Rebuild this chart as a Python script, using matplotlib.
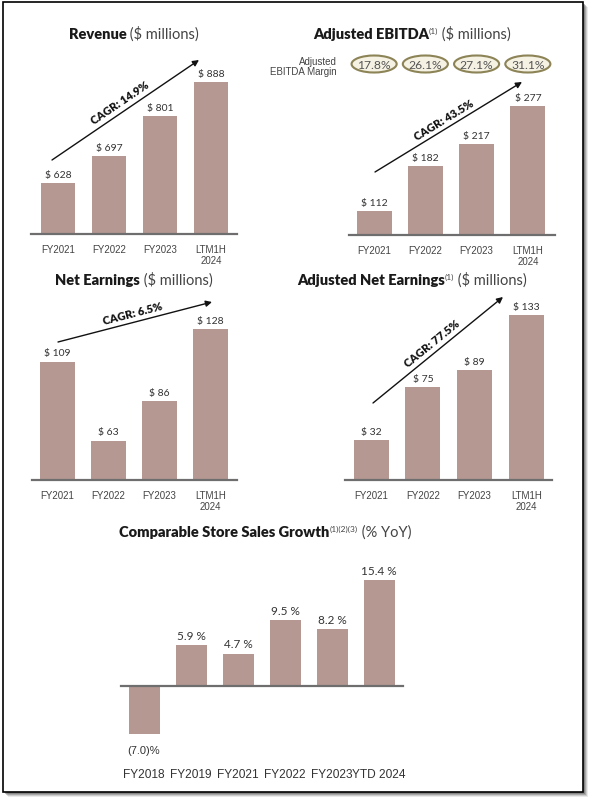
import numpy as np
import matplotlib as mpl
import matplotlib.pyplot as plt
from matplotlib.patches import Rectangle, Ellipse
from matplotlib.transforms import blended_transform_factory

mpl.rcParams["font.family"] = "Lato"

W, H = 592, 803

# data
years4 = ["FY2021", "FY2022", "FY2023", "LTM1H\n2024"]
revenue = [628, 697, 801, 888]
ebitda = [112, 182, 217, 277]
ebitda_margin = ["17.8%", "26.1%", "27.1%", "31.1%"]
net_earn = [109, 63, 86, 128]
adj_net_earn = [32, 75, 89, 133]
cagr = ["CAGR: 14.9%", "CAGR: 43.5%", "CAGR: 6.5%", "CAGR: 77.5%"]
comp_years = ["FY2018", "FY2019", "FY2021", "FY2022", "FY2023", "YTD 2024"]
comp_growth = [-7.0, 5.9, 4.7, 9.5, 8.2, 15.4]

BAR = "#b59892"
AXIS = "#6e6e6e"
TXT = "#333333"

fig = plt.figure(figsize=(W / 100, H / 100), dpi=100)


def fx(x):
    return x / W


def fy(y):
    return 1 - y / H


# frame with a soft shadow
for off, a in [(5, 0.12), (4, 0.2), (3, 0.3), (2, 0.4)]:
    fig.add_artist(Rectangle((fx(3 + off), fy(793 + off)), 580 / W, 790 / H,
                             transform=fig.transFigure, fc="#555555", ec="none",
                             alpha=a, zorder=-5))
fig.add_artist(Rectangle((fx(3), fy(793)), 580 / W, 790 / H, transform=fig.transFigure,
                         fc="white", ec="black", lw=1.2, zorder=-4))


def panel(left, right, base, scale, v0, top, bottom, xlim):
    # pixel box -> axes; scale = pixels per unit, v0 = value at the baseline
    ax = fig.add_axes([fx(left), fy(bottom), (right - left) / W, (bottom - top) / H])
    ax.set_facecolor("none")
    ax.set_xlim(*xlim)
    ax.set_ylim(v0 - (bottom - base) / scale, v0 + (base - top) / scale)
    for s in ax.spines.values():
        s.set_visible(False)
    ax.set_yticks([])
    ax.axhline(v0, color=AXIS, lw=1.6, clip_on=False, zorder=3)
    return ax


def rich(cx, base_y, parts):
    # parts: (text, size, weight, color, raise_px)
    r = fig.canvas.get_renderer()
    ts = []
    for s, size, weight, col, dy in parts:
        t = fig.text(0, fy(base_y) + dy / H, s, fontsize=size, fontweight=weight,
                     color=col, va="baseline", ha="left")
        ts.append(t)
    ws = [t.get_window_extent(r).width for t in ts]
    x = cx - sum(ws) / 2
    for t, w in zip(ts, ws):
        t.set_x(fx(x))
        x += w


def cagr_arrow(ax, p0, p1, label):
    ax.annotate("", xy=(p1[0], H - p1[1]), xycoords="figure pixels",
                xytext=(p0[0], H - p0[1]), textcoords="figure pixels",
                arrowprops=dict(arrowstyle="-|>", color="#111111", lw=1.0,
                                mutation_scale=9, shrinkA=0, shrinkB=0),
                annotation_clip=False)
    dx, dy = p1[0] - p0[0], p1[1] - p0[1]
    n = np.hypot(dx, dy)
    mx, my = (p0[0] + p1[0]) / 2, (p0[1] + p1[1]) / 2
    tx, ty = mx + 9 * dy / n, my - 9 * dx / n
    ang = np.degrees(np.arctan2(-dy, dx))
    fig.text(fx(tx), fy(ty), label, rotation=ang, rotation_mode="anchor",
             ha="center", va="center", fontsize=8, fontweight="heavy", color="#111111")


def bars4(ax, vals, prefix="$ "):
    x = np.arange(len(vals))
    ax.bar(x, vals, width=0.68, color=BAR, zorder=2)
    for xi, v in zip(x, vals):
        ax.annotate(f"{prefix}{v}", (xi, v), xytext=(0, 3), textcoords="offset points",
                    ha="center", va="bottom", fontsize=7.5, color=TXT)
    ax.set_xticks(x, years4)
    ax.tick_params(axis="x", length=0, pad=7, labelsize=7, labelcolor="#444444")
    for lb in ax.get_xticklabels():
        lb.set_fontfamily("Liberation Sans")


# Revenue
ax1 = panel(31, 237, 235, 0.388, 497, 60, 235, (-0.53, 3.51))
bars4(ax1, revenue)
rich(134, 39, [("Revenue", 10.5, "heavy", "#1a1a1a", 0),
               (" ($ millions)", 10.5, "normal", "#444444", 0)])
cagr_arrow(ax1, (52, 161), (199, 61), cagr[0])

# Adjusted EBITDA
ax2 = panel(349, 555, 236, 0.636, 74, 60, 236, (-0.49, 3.53))
bars4(ax2, ebitda)
rich(412, 39, [("Adjusted EBITDA", 10.5, "heavy", "#1a1a1a", 0),
               ("(1)", 6, "normal", "#444444", 5),
               (" ($ millions)", 10.5, "normal", "#444444", 0)])
cagr_arrow(ax2, (375, 173), (522, 83), cagr[1])
tr = blended_transform_factory(ax2.transData, fig.transFigure)
for i, m in enumerate(ebitda_margin):
    ax2.add_patch(Ellipse((i, fy(65)), 0.88, 17 / H, transform=tr, fc="#f5f2e4",
                          ec="#8c8356", lw=1.5, clip_on=False))
    ax2.text(i, fy(65.5), m, transform=tr, ha="center", va="center", fontsize=8.7,
             color="#555555")
fig.text(fx(337), fy(67), "Adjusted\nEBITDA Margin", ha="right", va="center",
         fontsize=7, color="#444444", family="Liberation Sans", multialignment="right",
         linespacing=1.05)

# Net Earnings
ax3 = panel(32, 237, 481, 1.717, 40, 300, 481, (-0.5, 3.52))
bars4(ax3, net_earn)
rich(134, 285, [("Net Earnings", 10.5, "heavy", "#1a1a1a", 0),
                (" ($ millions)", 10.5, "normal", "#444444", 0)])
cagr_arrow(ax3, (58, 343), (212, 303), cagr[2])

# Adjusted Net Earnings
ax4 = panel(345, 552, 481, 1.238, 0, 290, 481, (-0.51, 3.5))
bars4(ax4, adj_net_earn)
rich(412, 285, [("Adjusted Net Earnings", 10.5, "heavy", "#1a1a1a", 0),
                ("(1)", 6, "normal", "#444444", 5),
                (" ($ millions)", 10.5, "normal", "#444444", 0)])
cagr_arrow(ax4, (373, 404), (503, 298), cagr[3])

# Comparable store sales growth
ax5 = panel(121, 403, 687, 6.9, 0, 560, 740, (-0.49, 5.51))
xc = np.arange(len(comp_growth))
ax5.bar(xc, comp_growth, width=0.66, color=BAR, zorder=2)
for xi, v in zip(xc, comp_growth):
    if v >= 0:
        ax5.annotate(f"{v:.1f} %", (xi, v), xytext=(0, 3), textcoords="offset points",
                     ha="center", va="bottom", fontsize=8.5, color=TXT)
    else:
        ax5.annotate(f"({abs(v):.1f})%", (xi, v), xytext=(0, -8), textcoords="offset points",
                     ha="center", va="top", fontsize=8, color=TXT, family="Liberation Sans")
ax5.set_xticks(xc, comp_years)
ax5.tick_params(axis="x", length=0, pad=21, labelsize=8.6, labelcolor=TXT)
for lb in ax5.get_xticklabels():
    lb.set_fontfamily("Liberation Sans")
rich(265, 537, [("Comparable Store Sales Growth", 10.5, "heavy", "#1a1a1a", 0),
                ("(1)(2)(3)", 6, "normal", "#444444", 5),
                (" (% YoY)", 10.5, "normal", "#444444", 0)])

fig.savefig("out.png", dpi=100)
